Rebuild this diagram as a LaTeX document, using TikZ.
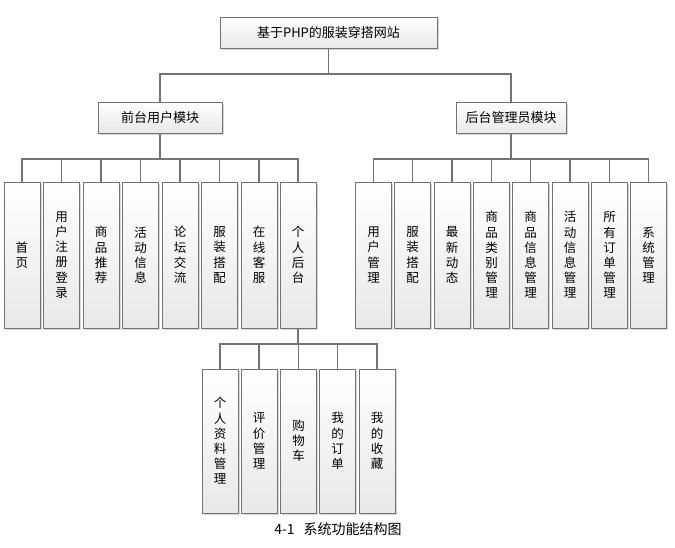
\documentclass[tikz,border=0pt]{standalone}
\usepackage{fontspec}
\setmainfont{Noto Sans CJK SC}
\usetikzlibrary{shadows}
\begin{document}
\begin{tikzpicture}[x=1pt,y=-1pt,
  boxbase/.style={draw=black!55, line width=1pt, inner sep=0pt,
    top color=white, bottom color=black!9,
    drop shadow={shadow xshift=1.5pt, shadow yshift=-1.5pt, fill=black!30, opacity=0.5}},
  hbox/.style={boxbase, minimum height=31pt, font=\fontsize{13}{15}\selectfont},
  vbox/.style={boxbase, minimum width=36pt, minimum height=146pt, align=center,
    font=\fontsize{12.5}{15.2}\selectfont},
  conn/.style={draw=black!55, line width=1.1pt}]
\useasboundingbox (0,0) rectangle (675,547);
\fill[white] (0,0) rectangle (675,547);
% top levels
\node[hbox, minimum width=217pt] (root) at (328.5,32.5) {基于PHP的服装穿搭网站};
\node[hbox, minimum width=124pt] (front) at (160,117.5) {前台用户模块};
\node[hbox, minimum width=110pt] (back) at (511,118) {后台管理员模块};
% front children
\node[vbox] (f1) at (22,255) {首\\页};
\node[vbox] (f2) at (61.5,255) {用\\户\\注\\册\\登\\录};
\node[vbox] (f3) at (101,255) {商\\品\\推\\荐};
\node[vbox] (f4) at (140.5,255) {活\\动\\信\\息};
\node[vbox] (f5) at (180,255) {论\\坛\\交\\流};
\node[vbox] (f6) at (219.5,255) {服\\装\\搭\\配};
\node[vbox] (f7) at (259,255) {在\\线\\客\\服};
\node[vbox] (f8) at (298,255) {个\\人\\后\\台};
% back children
\node[vbox] (b1) at (373.5,255) {用\\户\\管\\理};
\node[vbox] (b2) at (412.5,255) {服\\装\\搭\\配};
\node[vbox] (b3) at (452,255) {最\\新\\动\\态};
\node[vbox] (b4) at (491.5,255) {商\\品\\类\\别\\管\\理};
\node[vbox] (b5) at (530.5,255) {商\\品\\信\\息\\管\\理};
\node[vbox] (b6) at (570,255) {活\\动\\信\\息\\管\\理};
\node[vbox] (b7) at (609.5,255) {所\\有\\订\\单\\管\\理};
\node[vbox] (b8) at (648.5,255) {系\\统\\管\\理};
% personal children
\node[vbox, minimum height=144pt] (p1) at (220,441) {个\\人\\资\\料\\管\\理};
\node[vbox, minimum height=144pt] (p2) at (259,441) {评\\价\\管\\理};
\node[vbox, minimum height=144pt] (p3) at (298.5,441) {购\\物\\车};
\node[vbox, minimum height=144pt] (p4) at (337.5,441) {我\\的\\订\\单};
\node[vbox, minimum height=144pt] (p5) at (377,441) {我\\的\\收\\藏};
% caption
\node[font=\fontsize{14}{16}\selectfont, inner sep=0pt] (cap) at (338,529) {4-1\hspace{9pt}系统功能结构图};
% connectors
\coordinate (rb) at (root.south |- 0,74);
\coordinate (fb) at (front.south |- 0,159);
\coordinate (bb) at (back.south |- 0,159);
\coordinate (pb) at (f8.south |- 0,344);
\draw[conn] (root.south) -- (rb);
\draw[conn] (rb) -| (front.north);
\draw[conn] (rb) -| (back.north);
\draw[conn] (front.south) -- (fb);
\foreach \c in {f1,f2,f3,f4,f5,f6,f7,f8} \draw[conn] (fb) -| (\c.north);
\draw[conn] (back.south) -- (bb);
\foreach \c in {b1,b2,b3,b4,b5,b6,b7,b8} \draw[conn] (bb) -| (\c.north);
\draw[conn] (f8.south) -- (pb);
\foreach \c in {p1,p2,p3,p4,p5} \draw[conn] (pb) -| (\c.north);
\end{tikzpicture}
\end{document}
